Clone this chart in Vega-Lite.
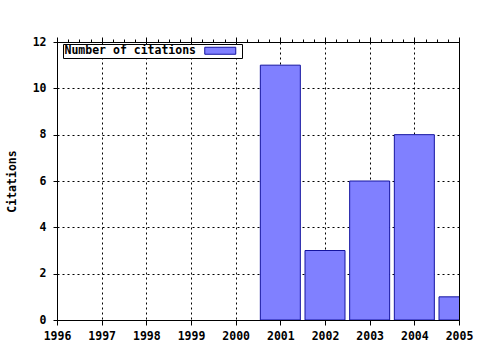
{
  "$schema": "https://vega.github.io/schema/vega-lite/v6.json",
  "autosize": "none",
  "width": 402,
  "height": 278,
  "padding": {"left": 57, "top": 42, "right": 21, "bottom": 30},
  "background": "white",
  "config": {
    "view": {"stroke": "black", "strokeWidth": 1},
    "font": "DejaVu Sans Mono",
    "axis": {
      "labelFont": "DejaVu Sans Mono",
      "labelFontWeight": "bold",
      "labelFontSize": 11.5,
      "labelColor": "black",
      "titleFont": "DejaVu Sans Mono",
      "titleFontWeight": "bold",
      "titleFontSize": 11.5,
      "titleColor": "black",
      "domain": false,
      "tickColor": "black",
      "gridColor": "black",
      "gridDash": [2, 3],
      "gridWidth": 1,
      "gridOpacity": 1
    }
  },
  "data": {
    "values": [
      {"year": 2001, "citations": 11, "series": "Number of citations"},
      {"year": 2002, "citations": 3, "series": "Number of citations"},
      {"year": 2003, "citations": 6, "series": "Number of citations"},
      {"year": 2004, "citations": 8, "series": "Number of citations"},
      {"year": 2005, "citations": 1, "series": "Number of citations"}
    ]
  },
  "resolve": {"axis": {"x": "independent"}},
  "layer": [
    {
      "mark": {"type": "bar", "size": 40, "clip": true, "stroke": "#1414a0", "strokeWidth": 1, "opacity": 1},
      "encoding": {
        "x": {
          "field": "year",
          "type": "quantitative",
          "scale": {"domain": [1996, 2005], "nice": false, "zero": false, "padding": 0},
          "axis": {
            "orient": "bottom",
            "title": null,
            "format": "d",
            "values": [1996, 1996.25, 1996.5, 1996.75, 1997, 1997.25, 1997.5, 1997.75, 1998, 1998.25, 1998.5, 1998.75, 1999, 1999.25, 1999.5, 1999.75, 2000, 2000.25, 2000.5, 2000.75, 2001, 2001.25, 2001.5, 2001.75, 2002, 2002.25, 2002.5, 2002.75, 2003, 2003.25, 2003.5, 2003.75, 2004, 2004.25, 2004.5, 2004.75, 2005],
            "labelExpr": "datum.value % 1 === 0 ? format(datum.value, 'd') : ''",
            "labelFlush": false,
            "labelPadding": 5,
            "tickSize": {"condition": {"test": "datum.value % 1 === 0", "value": 5}, "value": 3},
            "gridOpacity": {"condition": {"test": "datum.value % 1 === 0", "value": 1}, "value": 0}
          }
        },
        "y": {
          "field": "citations",
          "type": "quantitative",
          "scale": {"domain": [0, 12], "nice": false, "padding": 0},
          "axis": {
            "title": "Citations",
            "values": [0, 2, 4, 6, 8, 10, 12],
            "tickSize": 4,
            "labelPadding": 7,
            "titlePadding": 15
          }
        },
        "color": {
          "field": "series",
          "type": "nominal",
          "scale": {"range": ["#8080ff"]},
          "legend": {
            "title": null,
            "orient": "none",
            "legendX": 6,
            "legendY": 2,
            "symbolType": "M-3.875,-0.875H3.875V0.875H-3.875Z M4.6,0",
            "symbolSize": 64,
            "symbolOffset": 150.5,
            "symbolStrokeColor": "#1414a0",
            "symbolStrokeWidth": 1,
            "symbolFillColor": "#8080ff",
            "labelAlign": "left",
            "labelOffset": -161.5,
            "labelFont": "DejaVu Sans Mono",
            "labelFontWeight": "bold",
            "labelFontSize": 11.5,
            "labelColor": "black",
            "fillColor": "white",
            "strokeColor": "black",
            "padding": 1
          }
        }
      }
    },
    {
      "mark": {"type": "rule", "opacity": 0},
      "encoding": {
        "x": {
          "field": "year",
          "type": "quantitative",
          "scale": {"domain": [1996, 2005], "nice": false, "zero": false, "padding": 0},
          "axis": {
            "orient": "top",
            "title": null,
            "labels": false,
            "grid": false,
            "values": [1996, 1996.25, 1996.5, 1996.75, 1997, 1997.25, 1997.5, 1997.75, 1998, 1998.25, 1998.5, 1998.75, 1999, 1999.25, 1999.5, 1999.75, 2000, 2000.25, 2000.5, 2000.75, 2001, 2001.25, 2001.5, 2001.75, 2002, 2002.25, 2002.5, 2002.75, 2003, 2003.25, 2003.5, 2003.75, 2004, 2004.25, 2004.5, 2004.75, 2005],
            "tickSize": {"condition": {"test": "datum.value % 1 === 0", "value": 5}, "value": 3}
          }
        }
      }
    }
  ]
}
